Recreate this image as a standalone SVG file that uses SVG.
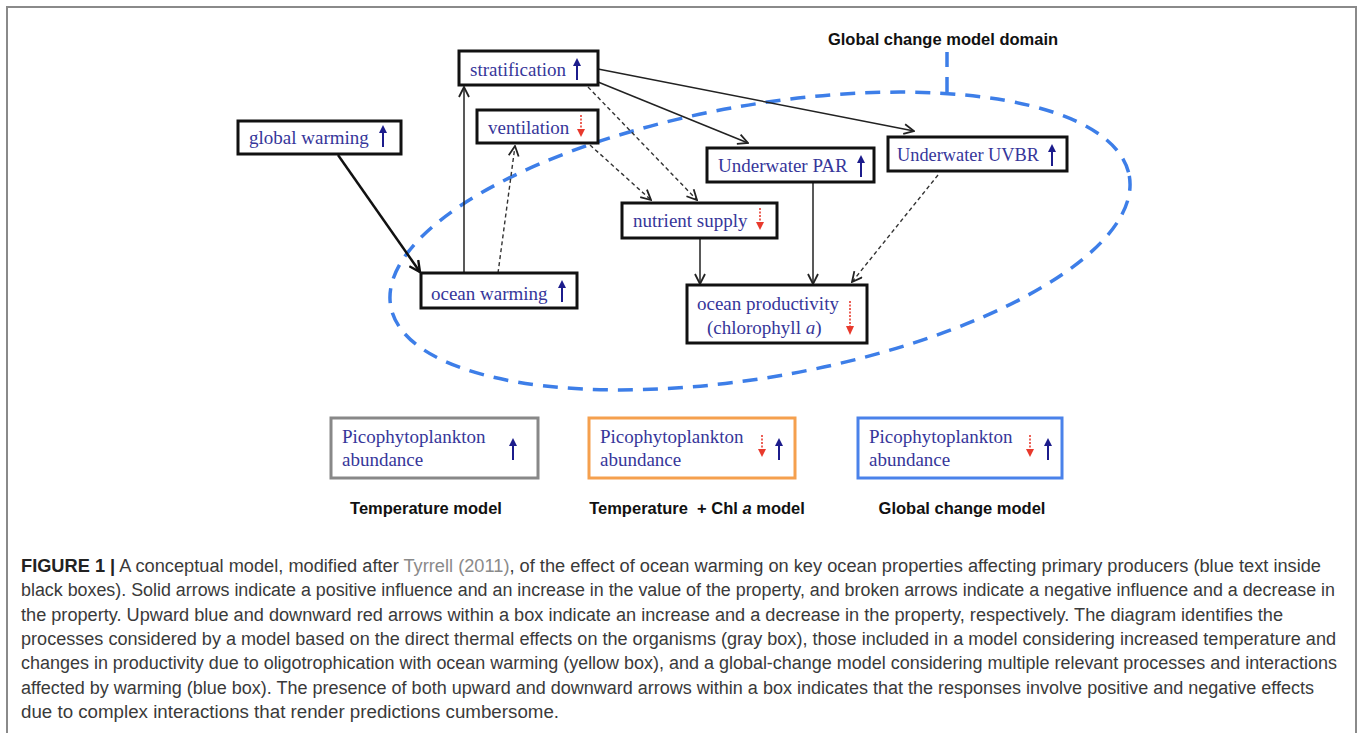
<svg xmlns="http://www.w3.org/2000/svg" width="1360" height="733" viewBox="0 0 1360 733">
<defs>
<style>
.box{fill:#fff;stroke:#111;stroke-width:3}
.t{font-family:"Liberation Serif","Times New Roman",serif;font-size:19px;fill:#36369a}
.lbl{font-family:"Liberation Sans",Arial,sans-serif;font-weight:bold;font-size:16.5px;fill:#111}
.c{fill:none;stroke:#222;stroke-width:1.5}
.d{fill:none;stroke:#333;stroke-width:1.4;stroke-dasharray:4 3}
.up{stroke:#1c1c8c;stroke-width:2;fill:none}
.uph{fill:#1c1c8c}
.dn{stroke:#e8392c;stroke-width:1.6;fill:none;stroke-dasharray:2 1.5}
.dnh{fill:#e8392c}
.cap{font-family:"Liberation Sans",Arial,sans-serif;font-size:18px;fill:#3a3a3a}
.dom{fill:none;stroke:#3d7ee8;stroke-width:3.5;stroke-dasharray:15 10}
</style>
<marker id="ah" viewBox="0 0 12 12" refX="11" refY="6" markerWidth="12" markerHeight="12" markerUnits="userSpaceOnUse" orient="auto">
<path d="M1,1 L11,6 L1,11" fill="none" stroke="#222" stroke-width="1.8"/>
</marker>
<marker id="ahb" viewBox="0 0 12 12" refX="11" refY="6" markerWidth="13" markerHeight="13" markerUnits="userSpaceOnUse" orient="auto">
<path d="M1,1 L11,6 L1,11" fill="none" stroke="#111" stroke-width="2.2"/>
</marker>
<g id="upA"><line class="up" x1="0" y1="11" x2="0" y2="-5"/><path class="uph" d="M-4,-3 L0,-11 L4,-3 Z"/></g>
<g id="dnA"><line class="dn" x1="0" y1="-11" x2="0" y2="4"/><path class="dnh" d="M-4,3 L0,11 L4,3 Z"/></g>
</defs>

<rect x="0" y="0" width="1360" height="733" fill="#fff"/>
<rect x="7" y="7" width="1349" height="740" fill="none" stroke="#8a8a8a" stroke-width="2"/>

<g id="domain">
<ellipse class="dom" cx="760" cy="241" rx="375" ry="136" transform="rotate(-10 760 241)"/>
<line class="dom" x1="947" y1="52" x2="947" y2="92" stroke-dasharray="12 8"/>
<text x="943" y="45" text-anchor="middle" font-family="Liberation Sans, Arial, sans-serif" font-weight="bold" font-size="16.5" fill="#111">Global change model domain</text>
</g>

<g id="connectors">
<line x1="338" y1="155" x2="420" y2="272" stroke="#111" stroke-width="2.5" marker-end="url(#ahb)"/>
<line class="c" x1="464" y1="273" x2="464" y2="87" marker-end="url(#ah)"/>
<line class="d" x1="498" y1="273" x2="515" y2="146" marker-end="url(#ah)"/>
<line class="c" x1="598" y1="82" x2="748" y2="143" marker-end="url(#ah)"/>
<line class="c" x1="598" y1="69" x2="914" y2="131" marker-end="url(#ah)"/>
<line class="d" x1="588" y1="87" x2="697" y2="200" marker-end="url(#ah)"/>
<line class="d" x1="590" y1="145" x2="651" y2="200" marker-end="url(#ah)"/>
<line class="c" x1="700" y1="238" x2="700" y2="284" marker-end="url(#ah)"/>
<line class="c" x1="813" y1="182" x2="813" y2="284" marker-end="url(#ah)"/>
<line class="d" x1="938" y1="175" x2="852" y2="282" marker-end="url(#ah)"/>
</g>

<g id="n-stratification">
<rect class="box" x="459" y="51" width="139" height="34"/>
<text class="t" x="470" y="76">stratification</text>
<use href="#upA" x="577" y="69"/>
</g>
<g id="n-ventilation">
<rect class="box" x="477" y="110" width="121" height="33"/>
<text class="t" x="488" y="134">ventilation</text>
<use href="#dnA" x="581" y="126"/>
</g>
<g id="n-global-warming">
<rect class="box" x="238" y="121" width="163" height="33"/>
<text class="t" x="249" y="144">global warming</text>
<use href="#upA" x="383" y="136"/>
</g>
<g id="n-underwater-par">
<rect class="box" x="707" y="148" width="167" height="34"/>
<text class="t" x="718" y="172">Underwater PAR</text>
<use href="#upA" x="861" y="166"/>
</g>
<g id="n-underwater-uvbr">
<rect class="box" x="888" y="137" width="179" height="34"/>
<text class="t" x="897" y="161" textLength="142" lengthAdjust="spacingAndGlyphs">Underwater UVBR</text>
<use href="#upA" x="1052" y="155"/>
</g>
<g id="n-nutrient-supply">
<rect class="box" x="622" y="203" width="155" height="35"/>
<text class="t" x="633" y="227">nutrient supply</text>
<use href="#dnA" x="760" y="219"/>
</g>
<g id="n-ocean-warming">
<rect class="box" x="421" y="273" width="156" height="35"/>
<text class="t" x="431" y="300">ocean warming</text>
<use href="#upA" x="562" y="291"/>
</g>
<g id="n-ocean-productivity">
<rect class="box" x="687" y="285" width="180" height="58"/>
<text class="t" x="697" y="310">ocean productivity</text>
<text class="t" x="707" y="334">(chlorophyll <tspan font-style="italic">a</tspan>)</text>
<line class="dn" x1="850" y1="301" x2="850" y2="328"/>
<path class="dnh" d="M846,326 L850,335 L854,326 Z"/>
</g>

<g id="n-temperature-model">
<rect x="331" y="418" width="207" height="60" fill="#fff" stroke="#888" stroke-width="3"/>
<text class="t" x="342" y="443">Picophytoplankton</text>
<text class="t" x="342" y="466">abundance</text>
<use href="#upA" x="513" y="449"/>
<text class="lbl" x="426" y="514" text-anchor="middle">Temperature model</text>
</g>
<g id="n-temp-chl-model">
<rect x="589" y="418" width="206" height="60" fill="#fff" stroke="#f5a04e" stroke-width="3"/>
<text class="t" x="600" y="443">Picophytoplankton</text>
<text class="t" x="600" y="466">abundance</text>
<use href="#dnA" x="762" y="446"/>
<use href="#upA" x="779" y="449"/>
<text class="lbl" x="697" y="514" text-anchor="middle" xml:space="preserve">Temperature  + Chl <tspan font-style="italic">a</tspan> model</text>
</g>
<g id="n-global-change-model">
<rect x="858" y="418" width="204" height="60" fill="#fff" stroke="#4a82ea" stroke-width="3"/>
<text class="t" x="869" y="443">Picophytoplankton</text>
<text class="t" x="869" y="466">abundance</text>
<use href="#dnA" x="1030" y="446"/>
<use href="#upA" x="1048" y="449"/>
<text class="lbl" x="962" y="514" text-anchor="middle">Global change model</text>
</g>

<g id="caption" class="cap">
<text x="21" y="572" textLength="1300" lengthAdjust="spacingAndGlyphs"><tspan font-weight="bold" fill="#222">FIGURE 1 |</tspan> A conceptual model, modified after <tspan fill="#8a8a8a">Tyrrell (2011)</tspan>, of the effect of ocean warming on key ocean properties affecting primary producers (blue text inside</text>
<text x="21" y="596" textLength="1314" lengthAdjust="spacingAndGlyphs">black boxes). Solid arrows indicate a positive influence and an increase in the value of the property, and broken arrows indicate a negative influence and a decrease in</text>
<text x="21" y="621" textLength="1262" lengthAdjust="spacingAndGlyphs">the property. Upward blue and downward red arrows within a box indicate an increase and a decrease in the property, respectively. The diagram identifies the</text>
<text x="21" y="645" textLength="1315" lengthAdjust="spacingAndGlyphs">processes considered by a model based on the direct thermal effects on the organisms (gray box), those included in a model considering increased temperature and</text>
<text x="21" y="669" textLength="1316" lengthAdjust="spacingAndGlyphs">changes in productivity due to oligotrophication with ocean warming (yellow box), and a global-change model considering multiple relevant processes and interactions</text>
<text x="21" y="694" textLength="1293" lengthAdjust="spacingAndGlyphs">affected by warming (blue box). The presence of both upward and downward arrows within a box indicates that the responses involve positive and negative effects</text>
<text x="21" y="718" textLength="538" lengthAdjust="spacingAndGlyphs">due to complex interactions that render predictions cumbersome.</text>
</g>
</svg>
